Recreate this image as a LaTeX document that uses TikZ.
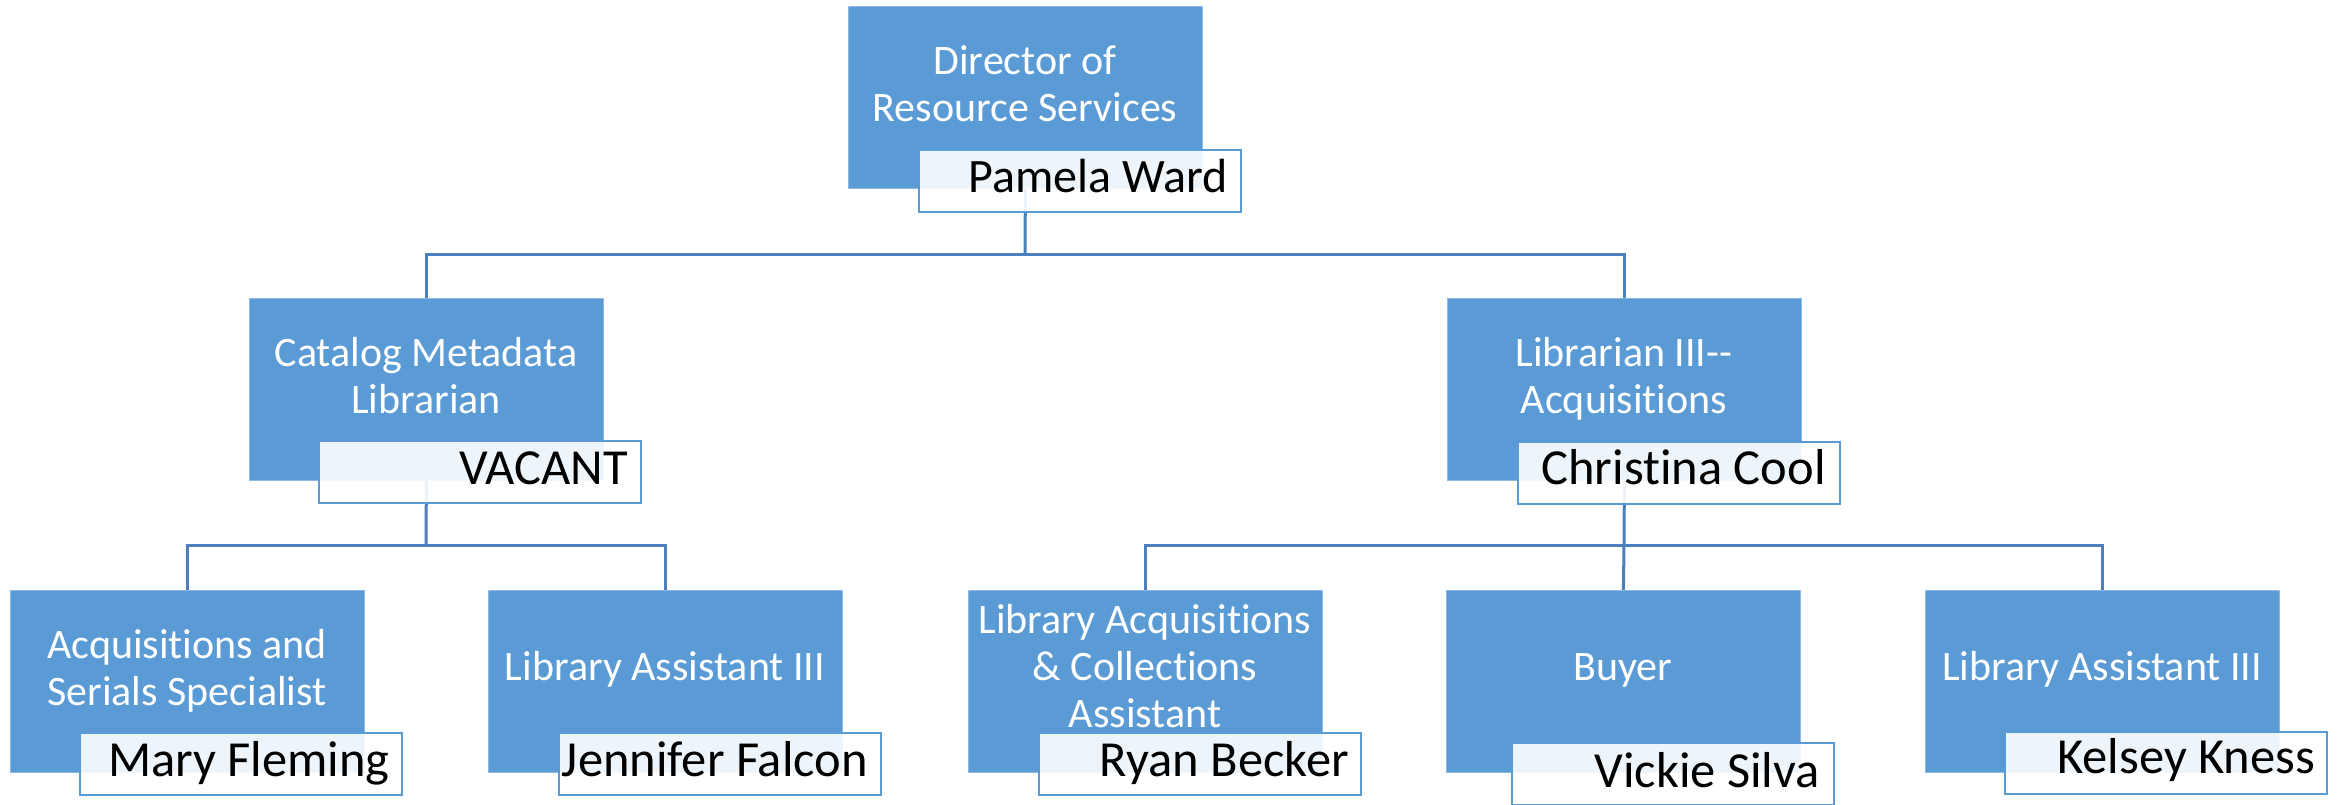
\documentclass[tikz,border=0pt]{standalone}
\usepackage{fontspec}
\setmainfont{Carlito}[Ligatures={NoCommon}]
\usetikzlibrary{backgrounds}
\definecolor{boxblue}{HTML}{5B9BD5}
\definecolor{connblue}{HTML}{4C80BC}
\tikzset{
  rolebox/.style={fill=boxblue, draw=boxblue!70!white, line width=0.8pt, minimum width=354pt, minimum height=182pt, anchor=north west, inner sep=0pt},
  namebox/.style={fill=white, fill opacity=0.9, draw=boxblue, line width=2pt, minimum width=322pt, minimum height=62pt, anchor=north west, inner sep=0pt},
  titletext/.style={text=white, font=\fontsize{42}{47}\selectfont, align=center, anchor=north, inner sep=0pt},
  nametext/.style={text=black, font=\fontsize{50.5}{56}\selectfont, anchor=base east, inner sep=0pt},
  conn/.style={draw=connblue, line width=3pt}
}
\begin{document}
\begin{tikzpicture}[x=1pt, y=-1pt]
\useasboundingbox (0,0) rectangle (2341,805);
% role boxes
\node[rolebox] (dir) at (848,6) {};
\node[rolebox] (cat) at (249,298) {};
\node[rolebox] (lib3) at (1447,298) {};
\node[rolebox] (acq) at (10,590) {};
\node[rolebox] (la1) at (488,590) {};
\node[rolebox] (lac) at (968,590) {};
\node[rolebox] (buy) at (1446,590) {};
\node[rolebox] (la2) at (1925,590) {};
% titles
\node[titletext] (dirT) at (1025,41.1) {\strut Director of\\Resource Services};
\node[titletext] (catT) at (426,333.1) {\strut Catalog Metadata\\Librarian};
\node[titletext] (lib3T) at (1624,333.1) {\strut Librarian III-{}-\\Acquisitions};
\node[titletext] (acqT) at (187,625.1) {\strut Acquisitions and\\Serials Specialist};
\node[titletext] (la1T) at (665,647.1) {\strut Library Assistant III};
\node[titletext] (lacT) at (1145,600.1) {\strut Library Acquisitions\\\& Collections\\Assistant};
\node[titletext] (buyT) at (1623,647.1) {\strut Buyer};
\node[titletext] (la2T) at (2102,647.1) {\strut Library Assistant III};
% name boxes
\node[namebox] (dirN) at (918,149) {};
\node[namebox] (catN) at (318,440) {};
\node[namebox] (lib3N) at (1517,441) {};
\node[namebox] (acqN) at (79,732) {};
\node[namebox] (la1N) at (558,732) {};
\node[namebox] (lacN) at (1038,732) {};
\node[namebox] (buyN) at (1511,742) {};
\node[namebox] (la2N) at (2004,731) {};
% names
\node[nametext, font=\fontsize{48}{54}\selectfont] (dirP) at (1228,193) {Pamela Ward};
\node[nametext] (catP) at (628,484) {VACANT};
\node[nametext] (lib3P) at (1826,484) {Christina Cool};
\node[nametext] (acqP) at (390,776) {Mary Fleming};
\node[nametext] (la1P) at (868,776) {Jennifer Falcon};
\node[nametext] (lacP) at (1349,776) {Ryan Becker};
\node[nametext] (buyP) at (1820,787) {Vickie Silva};
\node[nametext] (la2P) at (2315,773) {Kelsey Kness};
% junctions
\coordinate (j1) at (1025,254);
\coordinate (j2) at (426,545);
\coordinate (j3) at (1624,545);
\begin{pgfonlayer}{background}
\draw[conn] (dir.south) -- (j1);
\draw[conn] (cat.north) |- (j1) -| (lib3.north);
\draw[conn] (cat.south) -- (j2);
\draw[conn] (acq.north) |- (j2) -| (la1.north);
\draw[conn] (lib3.south) -- (j3);
\draw[conn] (lac.north) |- (j3) -| (la2.north);
\draw[conn] (j3) -- (buy.north);
\end{pgfonlayer}
\end{tikzpicture}
\end{document}
